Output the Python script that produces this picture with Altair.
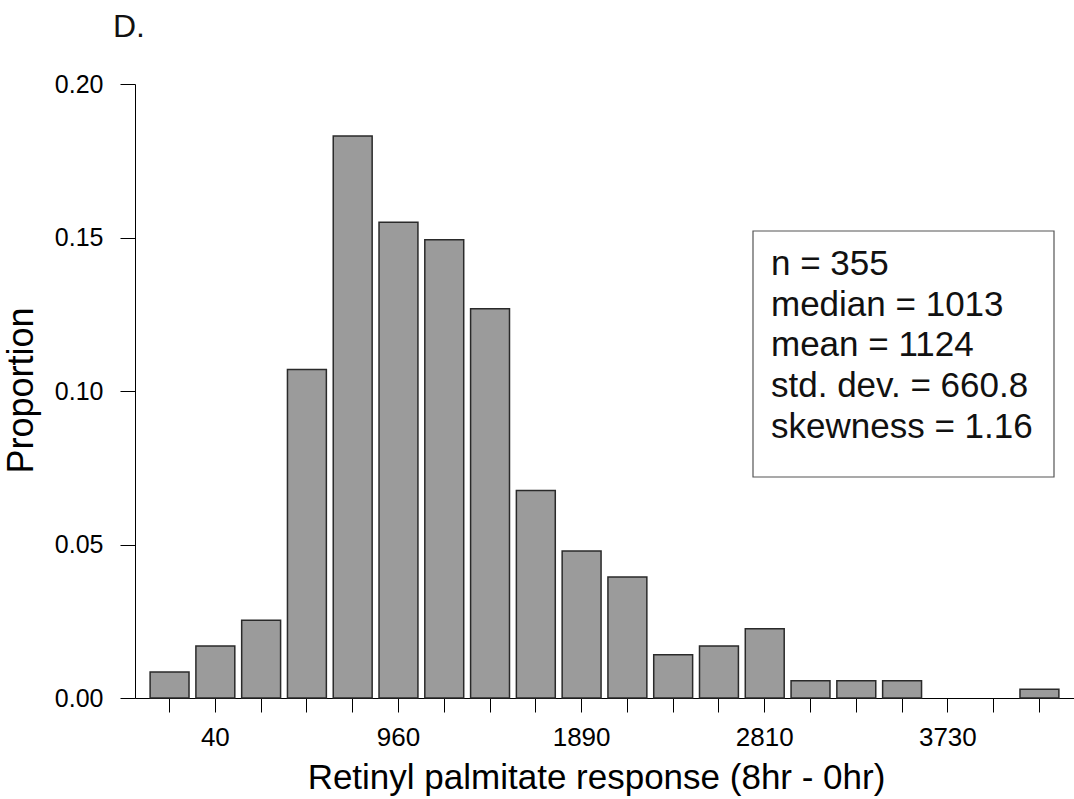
import json
import altair as alt
import pandas as pd

# ---- data ----
bin_index = list(range(20))
counts = [3, 6, 9, 38, 65, 55, 53, 45, 24, 17, 14, 5, 6, 8, 2, 2, 2, 0, 0, 1]
n_total = 355
tick_labels = ["", "40", "", "", "", "960", "", "", "", "1890", "", "", "",
               "2810", "", "", "", "3730", "", ""]
y_ticks = [0.0, 0.05, 0.10, 0.15, 0.20]
stat_lines = ["n = 355", "median = 1013", "mean = 1124",
              "std. dev. = 660.8", "skewness = 1.16"]
panel_label = "D."
x_title = "Retinyl palmitate response (8hr - 0hr)"
y_title = "Proportion"

FONT = "Liberation Sans"

df = pd.DataFrame({"bin": bin_index, "count": counts})
df["proportion"] = df["count"] / n_total
bars_df = df[df["count"] > 0]

W, H = 939, 614

x_enc = alt.X(
    "bin:O",
    scale=alt.Scale(domain=bin_index, paddingInner=0.15, paddingOuter=0.33),
    axis=alt.Axis(
        title=x_title,
        labelExpr=f"{json.dumps(tick_labels)}[datum.value]",
        labelAngle=0,
        labelFontSize=26,
        labelFont=FONT,
        labelColor="black",
        labelPadding=12,
        tickSize=14,
        tickColor="black",
        tickWidth=1,
        domainColor="black",
        domainWidth=1,
        titleFont=FONT,
        titleFontSize=35,
        titleFontWeight="normal",
        titleColor="black",
        titleX=461,
        titleY=90,
        titleBaseline="alphabetic",
        titleAlign="center",
        grid=False,
    ),
)

y_enc = alt.Y(
    "proportion:Q",
    scale=alt.Scale(domain=[0, 0.2], nice=False, zero=True),
    axis=alt.Axis(
        title=y_title,
        values=y_ticks,
        format=".2f",
        labelFontSize=25,
        labelFont=FONT,
        labelColor="black",
        labelPadding=17,
        tickSize=15,
        tickColor="black",
        tickWidth=1,
        domainColor="black",
        domainWidth=1,
        titleFont=FONT,
        titleFontSize=36,
        titleFontWeight="normal",
        titleColor="black",
        titleX=-103,
        titleY=306,
        titleBaseline="alphabetic",
        titleAlign="center",
        grid=False,
    ),
)

bars = alt.Chart(bars_df).mark_bar(
    fill="#9b9b9b", stroke="#2a2a2a", strokeWidth=1.5
).encode(x=x_enc, y=y_enc)

box = alt.Chart(pd.DataFrame({"k": [0]})).mark_rect(
    fill="white", stroke="#555555", strokeWidth=1.2
).encode(
    x=alt.value(618), x2=alt.value(919), y=alt.value(147), y2=alt.value(393)
)

stats = alt.Chart(pd.DataFrame({"k": [0]})).mark_text(
    text=stat_lines, align="left", baseline="alphabetic",
    font=FONT, fontSize=35, lineHeight=40.7, color="#111111"
).encode(x=alt.value(636), y=alt.value(191))

label = alt.Chart(pd.DataFrame({"k": [0]})).mark_text(
    text=panel_label, align="left", baseline="alphabetic",
    font=FONT, fontSize=32, color="#111111"
).encode(x=alt.value(-22), y=alt.value(-47))

chart = alt.layer(bars, box, stats, label).properties(
    width=W, height=H,
    autosize=alt.AutoSizeParams(type="none"),
    padding={"left": 135, "top": 84, "right": 0, "bottom": 101},
    background="white",
).configure_view(stroke=None)

chart.save("out.html", embed_options={"renderer": "svg", "actions": False})
